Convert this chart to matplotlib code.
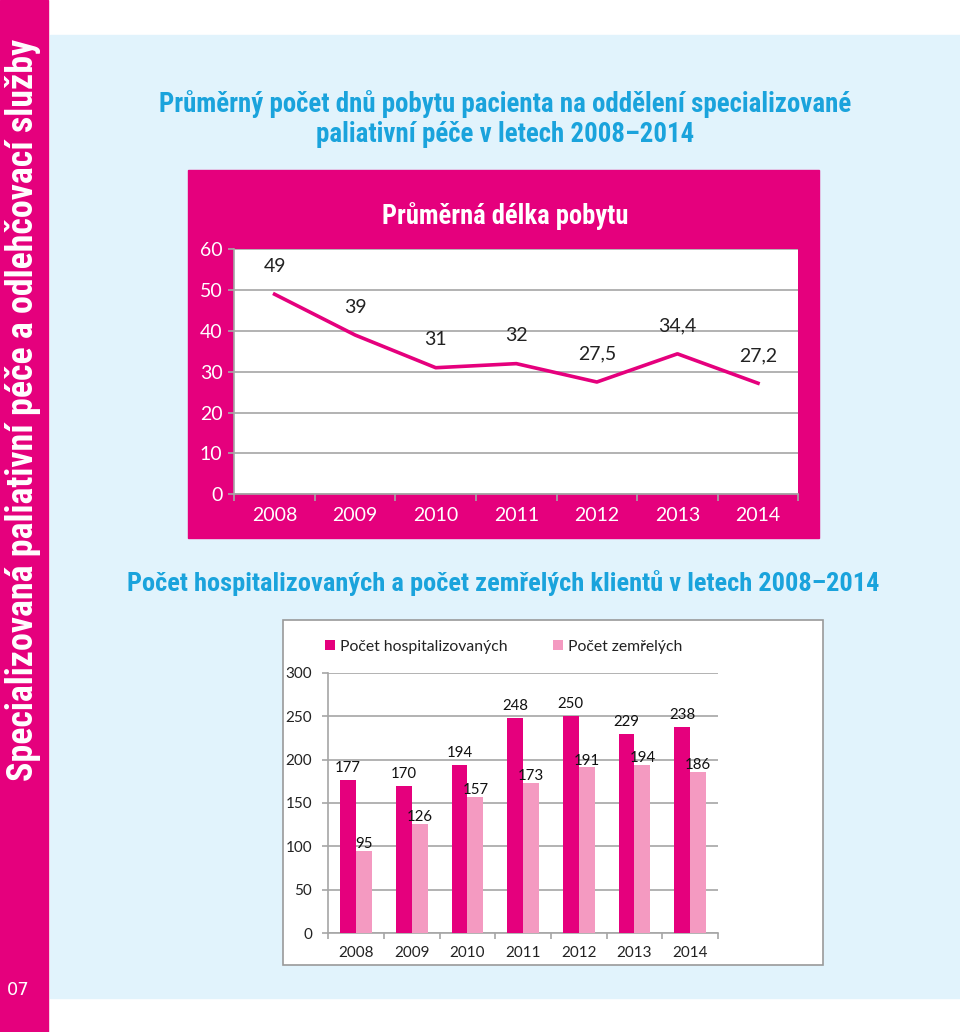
import matplotlib.pyplot as plt
import matplotlib.patches as mpatches
from matplotlib import font_manager
import numpy as np

years = ['2008', '2009', '2010', '2011', '2012', '2013', '2014']
avg_stay = [49, 39, 31, 32, 27.5, 34.4, 27.2]
hospitalized = [177, 170, 194, 248, 250, 229, 238]
deceased = [95, 126, 157, 173, 191, 194, 186]

PINK = '#e5007d'
LIGHT_PINK = '#f49ac1'
BLUE = '#1aa3dc'
PANEL = '#e1f3fc'
GRID = '#a6a6a6'

W, H = 960, 1032

# pick a condensed face for the headings if one is installed
installed = {f.name for f in font_manager.fontManager.ttflist}
narrow_stretch = 'normal'
NARROW = ['Roboto', 'DejaVu Sans']
for name in ['Liberation Sans Narrow', 'Roboto Condensed', 'Open Sans Condensed']:
    if name in installed:
        NARROW = [name, 'DejaVu Sans']
        break
else:
    if any(f.name == 'DejaVu Sans' and f.stretch == 'condensed' for f in font_manager.fontManager.ttflist):
        NARROW = ['DejaVu Sans']
        narrow_stretch = 'condensed'
BODY = ['Lato', 'DejaVu Sans']


def fx(x):
    return x / W


def fy(y):
    return 1 - y / H


def box(x0, y0, x1, y1):
    # rectangle in figure fractions from pixel corners
    return [fx(x0), fy(y1), fx(x1) - fx(x0), fy(y0) - fy(y1)]


def fit(t, target, vertical=False):
    # scale a text so its longest side is about target pixels
    r = fig.canvas.get_renderer()
    bb = t.get_window_extent(r)
    size = bb.height if vertical else bb.width
    t.set_fontsize(t.get_fontsize() * target / size)


fig = plt.figure(figsize=(W / 100, H / 100), dpi=100)

# page background
fig.patches.append(mpatches.Rectangle((fx(50), fy(998)), fx(960) - fx(50), fy(35) - fy(998),
                                      transform=fig.transFigure, color=PANEL, zorder=-5))
fig.patches.append(mpatches.Rectangle((0, 0), fx(48), 1, transform=fig.transFigure,
                                      color=PINK, zorder=-5))
side = fig.text(fx(23), fy(410), 'Specializovaná paliativní péče a odlehčovací služby', rotation=90,
                ha='center', va='center', color='white', fontsize=21, fontweight='bold',
                family=NARROW, stretch=narrow_stretch)
fig.text(fx(18), fy(990), '07', ha='center', va='center', color='white', fontsize=13,
         family=['DejaVu Sans'])

t1 = fig.text(fx(505), fy(119), 'Průměrný počet dnů pobytu pacienta na oddělení specializované\n'
              'paliativní péče v letech 2008–2014', ha='center', va='center', color=BLUE,
              fontsize=15.5, fontweight='bold', family=NARROW, stretch=narrow_stretch, linespacing=1.1)
t2 = fig.text(fx(503), fy(583), 'Počet hospitalizovaných a počet zemřelých klientů v letech 2008–2014',
              ha='center', va='center', color=BLUE, fontsize=16, fontweight='bold',
              family=NARROW, stretch=narrow_stretch)

# ---- line chart ----
fig.patches.append(mpatches.Rectangle((fx(188), fy(538)), fx(819) - fx(188), fy(170) - fy(538),
                                      transform=fig.transFigure, color=PINK, zorder=-5))
t3 = fig.text(fx(505), fy(216), 'Průměrná délka pobytu', ha='center', va='center', color='white',
              fontsize=15, fontweight='bold', family=NARROW, stretch=narrow_stretch)

fit(side, 742, vertical=True)
fit(t1, 693)
fit(t2, 753)
fit(t3, 246)

ax1 = fig.add_axes(box(234.3, 249.3, 798.3, 494.3))
x = np.arange(len(years))
ax1.plot(x, avg_stay, color=PINK, lw=2.6, solid_joinstyle='round', zorder=3)
for xi, v in zip(x, avg_stay):
    ax1.annotate(f'{v:g}'.replace('.', ','), (xi, v), xytext=(0, 20), textcoords='offset points',
                 ha='center', va='center', fontsize=14, color='#222222', family=BODY)
ax1.set_xlim(-0.5, 6.5)
ax1.set_ylim(0, 60)
ax1.set_yticks(range(0, 61, 10))
ax1.set_xticks(x)
ax1.set_xticklabels(years)
ax1.set_xticks(np.arange(-0.5, 7, 1), minor=True)
ax1.grid(axis='y', color=GRID, lw=1.2)
ax1.set_axisbelow(True)
for s in ['top', 'right']:
    ax1.spines[s].set_visible(False)
for s in ['left', 'bottom']:
    ax1.spines[s].set_color(GRID)
    ax1.spines[s].set_linewidth(1.2)
ax1.tick_params(axis='y', colors=GRID, length=4.5, width=1.2, labelcolor='white', labelsize=14, pad=4)
ax1.tick_params(axis='x', which='major', length=0, labelcolor='white', labelsize=14, pad=9)
ax1.tick_params(axis='x', which='minor', length=5, width=1.2, color=GRID)
for lab in ax1.get_xticklabels() + ax1.get_yticklabels():
    lab.set_family(BODY)

# ---- bar chart ----
fig.patches.append(mpatches.Rectangle((fx(283), fy(965)), fx(823) - fx(283), fy(620) - fy(965),
                                      transform=fig.transFigure, facecolor='white',
                                      edgecolor='#9a9a9a', lw=1.2, zorder=-5))
ax2 = fig.add_axes(box(328.3, 672.7, 718, 933.3))
ax2.patch.set_alpha(0)
bw = 0.287
ax2.bar(x - bw / 2, hospitalized, bw, color=PINK, label='Počet hospitalizovaných', zorder=3)
ax2.bar(x + bw / 2, deceased, bw, color=LIGHT_PINK, label='Počet zemřelých', zorder=3)
for xi, v in zip(x, hospitalized):
    ax2.annotate(str(v), (xi - bw / 2, v), xytext=(0, 8.6), textcoords='offset points',
                 ha='center', va='center', fontsize=10.8, color='#111111', family=BODY, zorder=4)
for xi, v in zip(x, deceased):
    ax2.annotate(str(v), (xi + bw / 2, v), xytext=(0, 4.8), textcoords='offset points',
                 ha='center', va='center', fontsize=10.8, color='#111111', family=BODY, zorder=4)
ax2.set_xlim(-0.5, 6.5)
ax2.set_ylim(0, 300)
ax2.set_yticks(range(0, 301, 50))
ax2.set_xticks(x)
ax2.set_xticklabels(years)
ax2.set_xticks(np.arange(-0.5, 7, 1), minor=True)
ax2.grid(axis='y', color=GRID, lw=1.2)
ax2.set_axisbelow(True)
for s in ['top', 'right']:
    ax2.spines[s].set_visible(False)
for s in ['left', 'bottom']:
    ax2.spines[s].set_color(GRID)
    ax2.spines[s].set_linewidth(1.2)
ax2.tick_params(axis='y', colors=GRID, length=4, width=1.2, labelcolor='#222222', labelsize=11, pad=7.5)
ax2.tick_params(axis='x', which='major', length=0, labelcolor='#222222', labelsize=11, pad=9.5)
ax2.tick_params(axis='x', which='minor', length=4, width=1.2, color=GRID)
for lab in ax2.get_xticklabels() + ax2.get_yticklabels():
    lab.set_family(BODY)
leg = ax2.legend(ncol=2, frameon=False, loc='center left', bbox_to_anchor=(fx(325), fy(646.7)),
                 bbox_transform=fig.transFigure, handlelength=0.65, handleheight=0.65,
                 handletextpad=0.3, columnspacing=2.9, prop={'family': BODY, 'size': 11.3},
                 borderaxespad=0, borderpad=0)
for t in leg.get_texts():
    t.set_color('#222222')

fig.savefig('out.png', dpi=100)
